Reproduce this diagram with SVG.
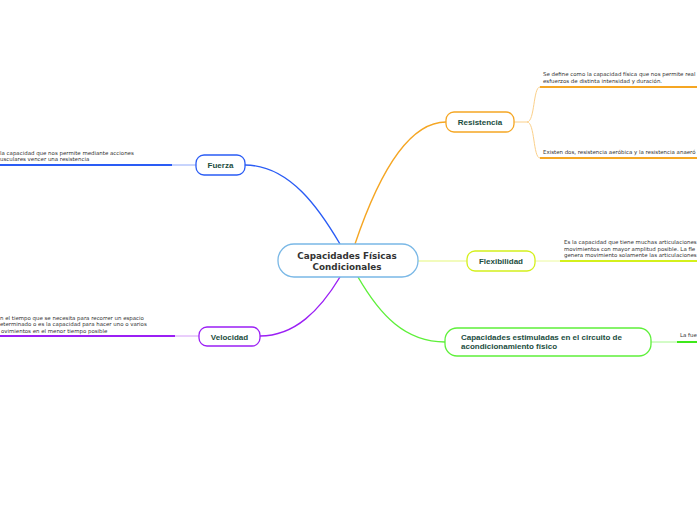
<svg xmlns="http://www.w3.org/2000/svg" width="697" height="520" viewBox="0 0 697 520">
<style>
.node rect{fill:#fff;stroke-width:1.3}
.lbl{font-family:"Liberation Sans",Arial,sans-serif;font-weight:bold;font-size:8px;fill:#1b4d3e}
.ctr{font-family:"DejaVu Sans",Verdana,sans-serif;font-weight:bold;font-size:8.8px;fill:#333;text-anchor:middle}
.sm{font-family:"DejaVu Sans",Verdana,sans-serif;font-size:5.45px;fill:#333}
.c{fill:none}
</style>
<rect width="697" height="520" fill="#fff"/>
<g id="connectors" class="c">
  <path d="M340 244 C320 210,290 165,245 165" stroke="#2a5cf5" stroke-width="1.4"/>
  <path d="M196 165 H172" stroke="#8fa8fa" stroke-width="1"/>
  <path d="M172 165 H0" stroke="#2a5cf5" stroke-width="2"/>
  <path d="M340 277 C320 310,295 336,260 336" stroke="#9b1ff5" stroke-width="1.4"/>
  <path d="M199 336 H175" stroke="#d49cf8" stroke-width="1"/>
  <path d="M175 336 H0" stroke="#9b1ff5" stroke-width="2"/>
  <path d="M355 244 C380 170,410 122,446 122" stroke="#f5a623" stroke-width="1.4"/>
  <path d="M514 122 H527 C535 122,533 87,540 87 M527 122 C535 122,533 158,540 158" stroke="#fbd08a" stroke-width="1"/>
  <path d="M540 87 H697 M540 158 H697" stroke="#f5a623" stroke-width="2"/>
  <path d="M418 261 H467" stroke="#e6f87a" stroke-width="1.2"/>
  <path d="M535 261 H560" stroke="#ecfa9c" stroke-width="1"/>
  <path d="M560 261 H697" stroke="#d4f01c" stroke-width="2"/>
  <path d="M358 277 C380 315,405 342,445 342" stroke="#5ef03a" stroke-width="1.4"/>
  <path d="M651 342 H677" stroke="#a6f88e" stroke-width="1"/>
  <path d="M677 342 H697" stroke="#3ee81a" stroke-width="2"/>
</g>
<g id="central" class="node">
  <rect x="278" y="244" width="140" height="33" rx="16" stroke="#7ab8e6"/>
  <text class="ctr" x="347" y="259">Capacidades Físicas</text>
  <text class="ctr" x="347" y="270">Condicionales</text>
</g>
<g id="fuerza" class="node">
  <rect x="196" y="155" width="49" height="20" rx="8" stroke="#2a5cf5"/>
  <text class="lbl" x="220.5" y="168" text-anchor="middle">Fuerza</text>
</g>
<g id="fuerza-text">
  <text class="sm" x="0" y="155">la capacidad que nos permite mediante acciones</text>
  <text class="sm" x="0" y="161">usculares vencer una resistencia</text>
</g>
<g id="velocidad" class="node">
  <rect x="199" y="327" width="61" height="19" rx="8" stroke="#9b1ff5"/>
  <text class="lbl" x="229.5" y="339.5" text-anchor="middle">Velocidad</text>
</g>
<g id="velocidad-text">
  <text class="sm" x="0" y="319.5">n el tiempo que se necesita para recorrer un espacio</text>
  <text class="sm" x="0" y="326">eterminado o es la capacidad para hacer uno o varios</text>
  <text class="sm" x="1" y="332.5">ovimientos en el menor tiempo posible</text>
</g>
<g id="resistencia" class="node">
  <rect x="446" y="112" width="68" height="20" rx="8" stroke="#f5a623"/>
  <text class="lbl" x="480" y="125" text-anchor="middle">Resistencia</text>
</g>
<g id="resistencia-text">
  <text class="sm" x="543" y="76">Se define como la capacidad física que nos permite real</text>
  <text class="sm" x="543" y="83">esfuerzos de distinta intensidad y duración.</text>
  <text class="sm" x="543" y="154">Existen dos, resistencia aeróbica y la resistencia anaeró</text>
</g>
<g id="flexibilidad" class="node">
  <rect x="467" y="251" width="68" height="20" rx="8" stroke="#d4f01c"/>
  <text class="lbl" x="501" y="264" text-anchor="middle">Flexibilidad</text>
</g>
<g id="flexibilidad-text">
  <text class="sm" x="564" y="244">Es la capacidad que tiene muchas articulaciones</text>
  <text class="sm" x="564" y="250.5">movimientos con mayor amplitud posible. La fle</text>
  <text class="sm" x="564" y="257">genera movimiento solamente las articulaciones</text>
</g>
<g id="estimuladas" class="node">
  <rect x="445" y="328" width="206" height="28" rx="12" stroke="#5ef03a"/>
  <text class="lbl" x="461" y="340">Capacidades estimuladas en el circuito de</text>
  <text class="lbl" x="461" y="349">acondicionamiento físico</text>
</g>
<g id="estimuladas-text">
  <text class="sm" x="680" y="337">La fue</text>
</g>
</svg>
